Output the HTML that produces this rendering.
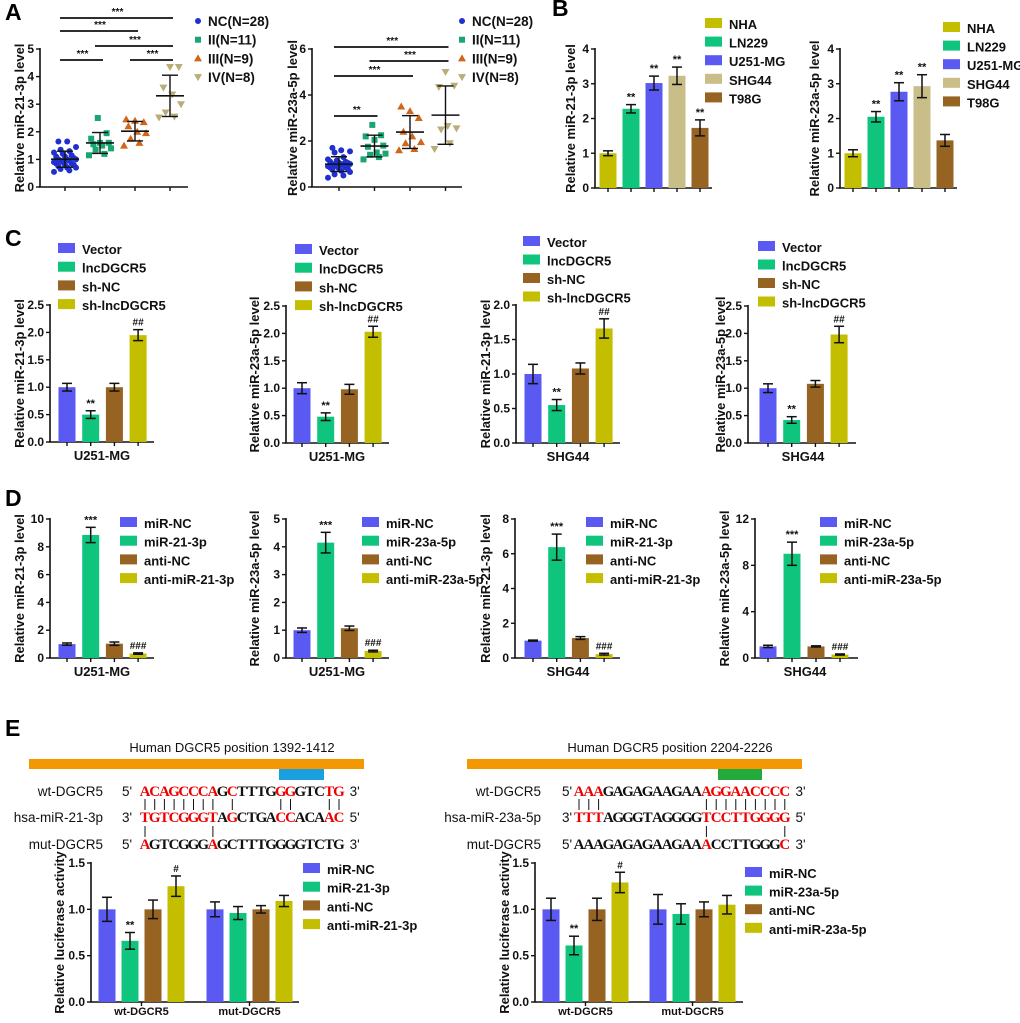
<!DOCTYPE html>
<html><head><meta charset="utf-8">
<style>
html,body{margin:0;padding:0;background:#fff;}
svg{display:block;font-family:"Liberation Sans",Arial,sans-serif;}
</style></head>
<body>
<svg id="fig" width="1020" height="1023" viewBox="0 0 1020 1023" xmlns="http://www.w3.org/2000/svg"></svg>
<script>
// ---------- DATA ----------
const aGroups = ['NC(N=28)','II(N=11)','III(N=9)','IV(N=8)'];
const a1NC = [0.55,0.6,0.65,0.7,0.7,0.75,0.8,0.8,0.85,0.85,0.9,0.9,0.95,0.95,1.0,1.0,1.0,1.05,1.1,1.1,1.15,1.2,1.25,1.3,1.35,1.45,1.65,1.65];
const a1II = [1.15,1.2,1.35,1.4,1.5,1.55,1.6,1.6,1.75,1.95,2.5];
const a1III = [1.5,1.6,1.75,1.95,2.0,2.2,2.35,2.4,2.45];
const a1IV = [2.52,2.55,2.7,3.0,3.35,3.6,4.35,4.35];
const a2NC = [0.4,0.5,0.55,0.65,0.7,0.75,0.8,0.8,0.85,0.85,0.9,0.9,0.95,0.95,1.0,1.0,1.0,1.05,1.05,1.1,1.1,1.15,1.2,1.3,1.5,1.55,1.6,1.7];
const a2II = [1.2,1.3,1.4,1.45,1.5,1.75,1.8,2.05,2.2,2.25,2.7];
const a2III = [1.6,1.65,1.9,1.95,2.2,2.4,3.0,3.3,3.5];
const a2IV = [1.65,1.9,2.5,2.55,2.65,4.35,4.4,5.0];
const a1Ticks = [0,1,2,3,4,5];
const a2Ticks = [0,2,4,6];

const bCats = ['NHA','LN229','U251-MG','SHG44','T98G'];
const b1Values = [1.0,2.28,3.02,3.23,1.73];
const b1Errors = [0.07,0.12,0.2,0.25,0.23];
const b1Stars = ['','**','**','**','**'];
const b2Values = [1.0,2.05,2.77,2.93,1.37];
const b2Errors = [0.1,0.15,0.26,0.33,0.17];
const b2Stars = ['','**','**','**',''];
const bTicks = [0,1,2,3,4];

const cCats = ['Vector','lncDGCR5','sh-NC','sh-lncDGCR5'];
const c1Values = [1.0,0.5,1.0,1.95];
const c1Errors = [0.07,0.07,0.07,0.1];
const c2Values = [1.0,0.48,0.98,2.03];
const c2Errors = [0.1,0.07,0.09,0.1];
const c3Values = [1.0,0.55,1.08,1.66];
const c3Errors = [0.14,0.08,0.08,0.14];
const c4Values = [1.0,0.42,1.08,1.98];
const c4Errors = [0.08,0.06,0.06,0.15];
const cStars = ['','**','','##'];
const cTicks25 = [0,0.5,1.0,1.5,2.0,2.5];
const cTicks20 = [0,0.5,1.0,1.5,2.0];

const d21Cats = ['miR-NC','miR-21-3p','anti-NC','anti-miR-21-3p'];
const d23Cats = ['miR-NC','miR-23a-5p','anti-NC','anti-miR-23a-5p'];
const d1Values = [1.0,8.85,1.03,0.32];
const d1Errors = [0.08,0.55,0.12,0.05];
const d2Values = [1.0,4.15,1.07,0.25];
const d2Errors = [0.08,0.37,0.08,0.03];
const d3Values = [1.0,6.38,1.15,0.22];
const d3Errors = [0.03,0.75,0.08,0.05];
const d4Values = [1.0,9.0,1.0,0.3];
const d4Errors = [0.1,1.0,0.05,0.05];
const dStars = ['','***','','###'];
const d1Ticks = [0,2,4,6,8,10];
const d2Ticks = [0,1,2,3,4,5];
const d3Ticks = [0,2,4,6,8];
const d4Ticks = [0,4,8,12];

const eGroups = ['wt-DGCR5','mut-DGCR5'];
const e1Values = [1.0,0.66,1.0,1.25, 1.0,0.96,1.0,1.09];
const e1Errors = [0.13,0.09,0.1,0.11, 0.08,0.07,0.04,0.06];
const e2Values = [1.0,0.61,1.0,1.29, 1.0,0.95,1.0,1.05];
const e2Errors = [0.12,0.1,0.12,0.11, 0.16,0.11,0.08,0.1];
const eStars = ['','**','','#','','','',''];
const eTicks = [0,0.5,1.0,1.5];

// ---------- HELPERS ----------
const NS='http://www.w3.org/2000/svg';
const svg=document.getElementById('fig');
const BLUE='#5a5af2', GREEN='#0fc47c', BROWN='#976322', OLIVE='#c3bf00', TAN='#c9bd88';
function mk(tag,attrs,name,parent){
  const n=document.createElementNS(NS,tag);
  for(const k in attrs) n.setAttribute(k,attrs[k]);
  
  
  (parent||svg).appendChild(n);
  return n;
}
function txt(x,y,s,opts,name,parent){
  const o=Object.assign({'font-size':12,'font-weight':'bold','fill':'#111'},opts||{});
  o.x=x;o.y=y;
  const t=mk('text',o,name,parent);
  t.textContent=s;
  return t;
}
function fmt(v,dec){return dec?v.toFixed(dec):String(v);}

function axes(g,o){
  const sc=v=>o.y0-(v/o.max)*(o.y0-o.yTop);
  mk('line',{x1:o.ax,y1:sc(o.max)-1,x2:o.ax,y2:o.y0,stroke:'#111','stroke-width':1.6},'y-axis-line',g);
  mk('line',{x1:o.ax-1,y1:o.y0,x2:o.xEnd,y2:o.y0,stroke:'#111','stroke-width':1.6},'x-axis-line',g);
  o.ticks.forEach(t=>{
    mk('line',{x1:o.ax-4,y1:sc(t),x2:o.ax,y2:sc(t),stroke:'#111','stroke-width':1.4},'y-tick',g);
    txt(o.ax-6,sc(t)+4,fmt(t,o.dec),{'text-anchor':'end','font-size':12},'y-tick-label',g);
  });
  const my=(o.y0+o.yTop)/2;
  txt(0,0,o.title,{'text-anchor':'middle','font-size':13,transform:`translate(${o.titleX},${my}) rotate(-90)`},'y-axis-title',g);
  return sc;
}
function bars(g,o,sc,vals,errs,stars,colors,xs){
  vals.forEach((v,i)=>{
    const x=xs[i], w=o.bw||17;
    mk('rect',{x:x-w/2,y:sc(v),width:w,height:o.y0-sc(v),fill:colors[i%colors.length]},'bar',g);
    const e=errs[i];
    mk('line',{x1:x,y1:sc(v+e),x2:x,y2:sc(v-e),stroke:'#111','stroke-width':1.5},'error-bar',g);
    mk('line',{x1:x-5,y1:sc(v+e),x2:x+5,y2:sc(v+e),stroke:'#111','stroke-width':1.5},'error-cap',g);
    mk('line',{x1:x-5,y1:sc(v-e),x2:x+5,y2:sc(v-e),stroke:'#111','stroke-width':1.5},'error-cap',g);
    if(stars&&stars[i]) txt(x,sc(v+e)-4,stars[i],{'text-anchor':'middle','font-size':stars[i][0]=='#'?10:11},'significance-mark',g);
  });
}
function legendBoxes(g,x,y0,dy,labels,colors){
  labels.forEach((l,i)=>{
    const y=y0+i*dy;
    mk('rect',{x:x,y:y-6,width:17,height:10,fill:colors[i]},'legend-swatch',g);
    txt(x+24,y+5,l,{'font-size':13},'legend-label',g);
  });
}
function xTicks(g,xs,y0){xs.forEach(x=>mk('line',{x1:x,y1:y0,x2:x,y2:y0+4,stroke:'#111','stroke-width':1.4},'x-tick',g));}
function seqXs(start,step,n){const a=[];for(let i=0;i<n;i++)a.push(start+i*step);return a;}
function grp(name){return mk('g',{},name);}

// ---------- PANEL LETTERS ----------
[['A',5,20],['B',552,16],['C',5,246],['D',5,506],['E',5,736]].forEach(p=>{
  txt(p[1],p[2],p[0],{'font-size':23,'fill':'#000'},'panel-label');
});

// ---------- PANEL A ----------
function mean(a){return a.reduce((s,v)=>s+v,0)/a.length;}
function sd(a){const m=mean(a);return Math.sqrt(a.reduce((s,v)=>s+(v-m)*(v-m),0)/(a.length-1));}
const aColors=['#1f2fd0','#19a672','#d0661a','#b8ae78'];
function marker(g,shape,x,y,c){
  if(shape==0) mk('circle',{cx:x,cy:y,r:3,fill:c},'data-point',g);
  else if(shape==1) mk('rect',{x:x-3,y:y-3,width:6,height:6,fill:c},'data-point',g);
  else if(shape==2) mk('path',{d:`M${x} ${y-4}L${x+4} ${y+3}L${x-4} ${y+3}Z`,fill:c},'data-point',g);
  else mk('path',{d:`M${x} ${y+4}L${x+4} ${y-3}L${x-4} ${y-3}Z`,fill:c},'data-point',g);
}
function scatter(name,o,sets,sig){
  const g=grp(name);
  const sc=axes(g,o);
  const xs=seqXs(o.x0,o.step,4);
  xTicks(g,xs,o.y0);
  sets.forEach((s,k)=>{
    s.forEach((v,i)=>{const j=((i*7)%11-5)*2.2; marker(g,k,xs[k]+j,sc(v),aColors[k]);});
    const m=mean(s), d=sd(s);
    mk('line',{x1:xs[k]-14,y1:sc(m),x2:xs[k]+14,y2:sc(m),stroke:'#111','stroke-width':1.6},'mean-line',g);
    mk('line',{x1:xs[k],y1:sc(m+d),x2:xs[k],y2:sc(m-d),stroke:'#111','stroke-width':1.4},'sd-line',g);
    mk('line',{x1:xs[k]-8,y1:sc(m+d),x2:xs[k]+8,y2:sc(m+d),stroke:'#111','stroke-width':1.4},'sd-cap',g);
    mk('line',{x1:xs[k]-8,y1:sc(m-d),x2:xs[k]+8,y2:sc(m-d),stroke:'#111','stroke-width':1.4},'sd-cap',g);
  });
  sig.forEach(s=>{
    mk('line',{x1:xs[s[0]]-5,y1:s[2],x2:xs[s[1]]+3,y2:s[2],stroke:'#111','stroke-width':1.8},'significance-bracket',g);
    txt((xs[s[0]]+xs[s[1]])/2,s[2]-3,s[3],{'text-anchor':'middle','font-size':10},'significance-mark',g);
  });
  aGroups.forEach((l,i)=>{
    const y=o.legY+i*18.7;
    marker(g,i,o.legX,y,aColors[i]);
    txt(o.legX+10,y+5,l,{'font-size':13.5},'legend-label',g);
  });
}
scatter('chart-a-mir21',{ax:40,y0:187,yTop:49,max:5,ticks:a1Ticks,dec:0,xEnd:188,title:'Relative miR-21-3p level',titleX:24,x0:65,step:35,legX:198,legY:21},
  [a1NC,a1II,a1III,a1IV],[[0,3,18,'***'],[0,2,31,'***'],[1,3,46,'***'],[0,1,60,'***'],[2,3,60,'***']]);
scatter('chart-a-mir23',{ax:312,y0:187,yTop:49,max:6,ticks:a2Ticks,dec:0,xEnd:462,title:'Relative miR-23a-5p level',titleX:297,x0:339,step:35.5,legX:462,legY:21},
  [a2NC,a2II,a2III,a2IV],[[0,3,47,'***'],[1,3,61,'***'],[0,2,76,'***'],[0,1,116,'**']]);

// ---------- BAR CHARTS ----------
function barChart(name,o,vals,errs,stars,colors,legendLabels){
  const g=grp(name);
  const sc=axes(g,o);
  const xs=seqXs(o.x0,o.step,vals.length);
  xTicks(g,xs,o.y0);
  bars(g,o,sc,vals,errs,stars,colors,xs);
  if(o.xLabel) txt(o.xLabelX,o.y0+18,o.xLabel,{'text-anchor':'middle','font-size':13},'x-axis-label',g);
  legendBoxes(g,o.legX,o.legY,o.legDy,legendLabels,colors);
}
const bCol=[OLIVE,GREEN,BLUE,TAN,BROWN];
barChart('chart-b-mir21',{ax:595,y0:188,yTop:49,max:4,ticks:bTicks,dec:0,xEnd:712,title:'Relative miR-21-3p level',titleX:575,x0:608,step:23,legX:705,legY:24,legDy:18.6},b1Values,b1Errors,b1Stars,bCol,bCats);
barChart('chart-b-mir23',{ax:840,y0:188,yTop:49,max:4,ticks:bTicks,dec:0,xEnd:957,title:'Relative miR-23a-5p level',titleX:819,x0:853,step:23,legX:943,legY:28,legDy:18.6},b2Values,b2Errors,b2Stars,bCol,bCats);

const cCol=[BLUE,GREEN,BROWN,OLIVE];
barChart('chart-c1',{ax:50,y0:442,yTop:305,max:2.5,ticks:cTicks25,dec:1,xEnd:154,title:'Relative miR-21-3p level',titleX:24,x0:67,step:23.7,xLabel:'U251-MG',xLabelX:102,legX:58,legY:249,legDy:18.7},c1Values,c1Errors,cStars,cCol,cCats);
barChart('chart-c2',{ax:286,y0:443,yTop:306,max:2.5,ticks:cTicks25,dec:1,xEnd:389,title:'Relative miR-23a-5p level',titleX:259,x0:302,step:23.7,xLabel:'U251-MG',xLabelX:337,legX:295,legY:250,legDy:18.7},c2Values,c2Errors,cStars,cCol,cCats);
barChart('chart-c3',{ax:516,y0:443,yTop:305,max:2.0,ticks:cTicks20,dec:1,xEnd:620,title:'Relative miR-21-3p level',titleX:490,x0:533,step:23.7,xLabel:'SHG44',xLabelX:568,legX:523,legY:242,legDy:18.5},c3Values,c3Errors,cStars,cCol,cCats);
barChart('chart-c4',{ax:748,y0:443,yTop:306,max:2.5,ticks:cTicks25,dec:1,xEnd:856,title:'Relative miR-23a-5p level',titleX:725,x0:768,step:23.7,xLabel:'SHG44',xLabelX:803,legX:758,legY:247,legDy:18.5},c4Values,c4Errors,cStars,cCol,cCats);

barChart('chart-d1',{ax:50,y0:658,yTop:519,max:10,ticks:d1Ticks,dec:0,xEnd:154,title:'Relative miR-21-3p level',titleX:24,x0:67,step:23.7,xLabel:'U251-MG',xLabelX:102,legX:120,legY:523,legDy:18.7},d1Values,d1Errors,dStars,cCol,d21Cats);
barChart('chart-d2',{ax:286,y0:658,yTop:519,max:5,ticks:d2Ticks,dec:0,xEnd:389,title:'Relative miR-23a-5p level',titleX:259,x0:302,step:23.7,xLabel:'U251-MG',xLabelX:337,legX:362,legY:523,legDy:18.7},d2Values,d2Errors,dStars,cCol,d23Cats);
barChart('chart-d3',{ax:515,y0:658,yTop:519,max:8,ticks:d3Ticks,dec:0,xEnd:620,title:'Relative miR-21-3p level',titleX:490,x0:533,step:23.7,xLabel:'SHG44',xLabelX:568,legX:586,legY:523,legDy:18.7},d3Values,d3Errors,dStars,cCol,d21Cats);
barChart('chart-d4',{ax:755,y0:658,yTop:519,max:12,ticks:d4Ticks,dec:0,xEnd:858,title:'Relative miR-23a-5p level',titleX:729,x0:768,step:24,xLabel:'SHG44',xLabelX:805,legX:820,legY:523,legDy:18.7},d4Values,d4Errors,dStars,cCol,d23Cats);

// ---------- PANEL E ----------
function lucChart(name,o,vals,errs,labels){
  const g=grp(name);
  const sc=axes(g,o);
  const xs=[];for(let i=0;i<4;i++)xs.push(o.x0+i*o.step);for(let i=0;i<4;i++)xs.push(o.x1+i*o.step);
  bars(g,o,sc,vals,errs,eStars,cCol,xs);
  [(xs[0]+xs[3])/2,(xs[4]+xs[7])/2].forEach((x,i)=>{
    mk('line',{x1:x,y1:o.y0,x2:x,y2:o.y0+4,stroke:'#111','stroke-width':1.4},'x-tick',g);
    txt(x,o.y0+13,eGroups[i],{'text-anchor':'middle','font-size':11},'x-group-label',g);
  });
  legendBoxes(g,o.legX,o.legY,o.legDy,labels,cCol);
}
lucChart('chart-e-mir21',{ax:91,y0:1002,yTop:863,max:1.5,ticks:eTicks,dec:1,xEnd:299,title:'Relative luciferase activity',titleX:64,x0:107,x1:215,step:23,legX:303,legY:869,legDy:18.7},e1Values,e1Errors,d21Cats);
lucChart('chart-e-mir23',{ax:535,y0:1002,yTop:863,max:1.5,ticks:eTicks,dec:1,xEnd:743,title:'Relative luciferase activity',titleX:509,x0:551,x1:658,step:23,legX:745,legY:873,legDy:18.6},e2Values,e2Errors,d23Cats);

// sequences
const seqL = {
  wt:{s:'ACAGCCCAGCTTTGGGGTCTG',r:'111111110100001100011'},
  hsa:{s:'TGTCGGGTAGCTGACCACAAC',r:'111111110100001100011'},
  mut:{s:'AGTCGGGAGCTTTGGGGTCTG',r:'100000010000000000000'}
};
const seqR = {
  wt:{s:'AAAGAGAGAAGAAAGGAACCCC',r:'1110000000000111111111'},
  hsa:{s:'TTTAGGGTAGGGGTCCTTGGGG',r:'1110000000000111111111'},
  mut:{s:'AAAGAGAGAAGAAACCTTGGGC',r:'0000000000000100000001'}
};
const linesL1=[0,1,2,3,4,5,6,7,9,14,15,19,20], linesL2=[0,7];
const linesR1=[0,1,2,13,14,15,16,17,18,19,20,21], linesR2=[13,21];
function seqBlock(name,o,seq,l1,l2,names){
  const g=grp(name);
  txt(o.titleX,752,o.title,{'text-anchor':'middle','font-size':13,'font-weight':'normal'},'site-title',g);
  mk('rect',{x:o.barX1,y:759,width:o.barX2-o.barX1,height:10,fill:'#f39800'},'transcript-bar',g);
  mk('rect',{x:o.siteX1,y:769,width:o.siteX2-o.siteX1,height:11,fill:o.siteColor},'binding-site-bar',g);
  const rows=[['wt',796,"5'","3'"],['hsa',822,"3'","5'"],['mut',849,"5'","3'"]];
  rows.forEach((r,k)=>{
    txt(o.labelX,r[1],names[k],{'text-anchor':'end','font-size':13.5,'font-weight':'normal'},'sequence-name',g);
    txt(o.primeX,r[1],r[2],{'text-anchor':'middle','font-size':13.5,'font-weight':'normal'},'prime-label',g);
    const S=seq[r[0]];
    const t=mk('text',{'font-family':'"Liberation Serif",serif','font-weight':'bold','font-size':15,'text-anchor':'middle'},'sequence',g);
    for(let i=0;i<S.s.length;i++){
      const sp=document.createElementNS(NS,'tspan');
      sp.setAttribute('x',o.s0+i*o.step);
      sp.setAttribute('y',r[1]);
      sp.setAttribute('fill',S.r[i]=='1'?'#e00':'#111');
      sp.textContent=S.s[i];
      t.appendChild(sp);
    }
    txt(o.s0+(S.s.length-1)*o.step+o.step+6,r[1],r[3],{'text-anchor':'middle','font-size':13.5,'font-weight':'normal'},'prime-label',g);
  });
  l1.forEach(i=>mk('line',{x1:o.s0+i*o.step,y1:799,x2:o.s0+i*o.step,y2:810,stroke:'#111','stroke-width':1},'pairing-line',g));
  l2.forEach(i=>mk('line',{x1:o.s0+i*o.step,y1:826,x2:o.s0+i*o.step,y2:837,stroke:'#111','stroke-width':1},'pairing-line',g));
}
seqBlock('sequence-mir21',{title:'Human DGCR5 position  1392-1412',titleX:232,barX1:29,barX2:364,siteX1:279,siteX2:324,siteColor:'#1aa0e0',labelX:103,primeX:127,s0:145,step:9.7},
  seqL,linesL1,linesL2,['wt-DGCR5','hsa-miR-21-3p','mut-DGCR5']);
seqBlock('sequence-mir23',{title:'Human DGCR5 position  2204-2226',titleX:670,barX1:467,barX2:802,siteX1:718,siteX2:762,siteColor:'#22aa3a',labelX:541,primeX:567,s0:579,step:9.8},
  seqR,linesR1,linesR2,['wt-DGCR5','hsa-miR-23a-5p','mut-DGCR5']);
</script>
</body></html>
